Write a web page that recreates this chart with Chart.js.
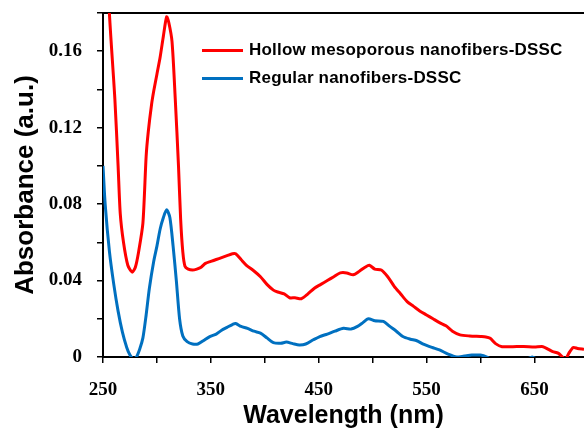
<!DOCTYPE html>
<html>
<head>
<meta charset="utf-8">
<script src="https://cdn.jsdelivr.net/npm/chart.js@4"></script>
<style>
    html, body { margin: 0; padding: 0; background: #fff; }
    #wrap { position: relative; width: 584px; height: 431px; }
    #legend { position: absolute; left: 202px; top: 36px; font: bold 17px "Liberation Sans", Arial, sans-serif; letter-spacing: 0.2px; color: #000; }
    .item { display: flex; align-items: center; height: 28px; white-space: nowrap; }
    .swatch { width: 41px; height: 3px; margin-right: 6px; }
</style>
</head>
<body>
<div id="wrap">
    <canvas id="chart" width="584" height="431"></canvas>
    <div id="legend"></div>
</div>
<script>
// --- データ ---
const seriesNames = ['Hollow mesoporous nanofibers-DSSC', 'Regular nanofibers-DSSC'];
const seriesColors = ['#ff0000', '#0070c0'];

const hollowWl = [250, 255, 261, 264, 266, 269, 273, 277, 280, 283, 287, 290, 292, 295, 297, 300, 303, 306, 309, 311, 314, 317, 320, 322, 324, 326, 329, 333, 337, 341, 345, 350, 355, 360, 365, 370, 373, 378, 383, 390, 396, 402, 408, 412, 418, 423, 428, 434, 440, 446, 452, 458, 464, 470, 476, 482, 488, 493, 497, 502, 508, 514, 520, 526, 532, 538, 544, 550, 556, 562, 568, 574, 581, 590, 600, 605, 609, 614, 620, 630, 640, 650, 658, 663, 667, 672, 676, 679, 682, 686, 690, 696];
const hollowAbs = [0.30, 0.19, 0.135, 0.10, 0.075, 0.06, 0.048, 0.0444, 0.047, 0.055, 0.07, 0.105, 0.118, 0.132, 0.139, 0.148, 0.157, 0.168, 0.178, 0.175, 0.165, 0.135, 0.10, 0.072, 0.055, 0.0475, 0.046, 0.0455, 0.046, 0.047, 0.049, 0.050, 0.051, 0.052, 0.053, 0.054, 0.054, 0.051, 0.048, 0.045, 0.042, 0.038, 0.035, 0.034, 0.033, 0.031, 0.031, 0.0305, 0.033, 0.036, 0.038, 0.040, 0.042, 0.044, 0.044, 0.043, 0.045, 0.047, 0.048, 0.046, 0.0455, 0.042, 0.037, 0.033, 0.029, 0.0265, 0.024, 0.022, 0.020, 0.018, 0.0163, 0.0135, 0.0116, 0.011, 0.0107, 0.0105, 0.0098, 0.007, 0.0054, 0.0054, 0.0055, 0.0052, 0.0054, 0.004, 0.0028, 0.002, 0.0, -0.001, 0.002, 0.005, 0.0045, 0.004];

const regularWl = [250, 252, 256, 260, 264, 268, 272, 275, 278, 281, 284, 287, 290, 293, 297, 300, 303, 306, 309, 312, 315, 318, 321, 324, 328, 333, 338, 343, 349, 355, 360, 365, 370, 373, 378, 384, 390, 396, 402, 408, 415, 420, 426, 432, 438, 445, 451, 458, 465, 473, 480, 486, 491, 496, 502, 510, 516, 522, 528, 535, 541, 547, 555, 562, 570, 578, 585, 592, 600, 606, 612, 625, 640, 648, 655, 670, 696];
const regularAbs = [0.10, 0.08, 0.055, 0.038, 0.024, 0.013, 0.005, 0.001, -0.001, 0.0, 0.004, 0.010, 0.022, 0.036, 0.050, 0.058, 0.067, 0.073, 0.077, 0.073, 0.058, 0.040, 0.020, 0.011, 0.008, 0.0068, 0.0068, 0.0085, 0.0107, 0.012, 0.014, 0.0155, 0.017, 0.0175, 0.016, 0.015, 0.0135, 0.0125, 0.010, 0.0075, 0.0072, 0.0078, 0.007, 0.0063, 0.0068, 0.009, 0.0107, 0.012, 0.0135, 0.015, 0.0146, 0.016, 0.018, 0.020, 0.019, 0.0186, 0.016, 0.0135, 0.0107, 0.0093, 0.0085, 0.0067, 0.005, 0.0037, 0.0015, 0.0, 0.0005, 0.001, 0.001, 0.0, -0.002, -0.003, -0.002, 0.0, -0.002, -0.002, -0.002];

const xTicks = [250, 300, 350, 400, 450, 500, 550, 600, 650];
const xTickLabels = ['250', '', '350', '', '450', '', '550', '', '650'];
const yTicks = [0, 0.02, 0.04, 0.06, 0.08, 0.10, 0.12, 0.14, 0.16, 0.18];
const yTickLabels = ['0', '', '0.04', '', '0.08', '', '0.12', '', '0.16', ''];

const toPoints = (xs, ys) => xs.map((x, i) => ({ x: x, y: ys[i] }));

// 凡例 (HTML)
document.getElementById('legend').innerHTML = seriesNames.map((name, i) =>
    `<div class="item"><span class="swatch" style="background:${seriesColors[i]}"></span>${name}</div>`
).join('');

const tickFont = { family: '"Liberation Serif", "Times New Roman", serif', size: 19, weight: 'bold' };
const sansFamily = '"Liberation Sans", Arial, sans-serif';

new Chart(document.getElementById('chart').getContext('2d'), {
    type: 'line',
    data: {
        datasets: [
            { label: seriesNames[0], data: toPoints(hollowWl, hollowAbs), borderColor: seriesColors[0], borderWidth: 3, pointRadius: 0, tension: 0.25, fill: false },
            { label: seriesNames[1], data: toPoints(regularWl, regularAbs), borderColor: seriesColors[1], borderWidth: 3, pointRadius: 0, tension: 0.25, fill: false }
        ]
    },
    options: {
        responsive: false,
        animation: false,
        devicePixelRatio: 1,
        layout: { padding: { top: 13, right: 0, left: 0, bottom: 0 } },
        plugins: { legend: { display: false }, tooltip: { enabled: false } },
        scales: {
            x: {
                type: 'linear', min: 250, max: 696,
                afterBuildTicks: s => { s.ticks = xTicks.map(v => ({ value: v })); },
                afterFit: s => { s.height = 74; s.paddingLeft = 0; s.paddingRight = 0; },
                ticks: { autoSkip: false, maxRotation: 0, color: '#000', font: tickFont, padding: 16, callback: (v, i) => xTickLabels[i] },
                grid: { drawOnChartArea: false, color: '#000', tickLength: 6, lineWidth: 1.5 },
                border: { display: true, color: '#000', width: 2 },
                title: { display: true, text: 'Wavelength (nm)', color: '#000', font: { family: sansFamily, size: 25, weight: 'bold' }, padding: { top: 0, bottom: 0 } }
            },
            xTop: {
                type: 'linear', position: 'top', min: 250, max: 696,
                afterFit: s => { s.height = 0; s.paddingLeft = 0; s.paddingRight = 0; },
                ticks: { display: false },
                grid: { display: false },
                border: { display: true, color: '#000', width: 2 }
            },
            y: {
                min: 0, max: 0.18,
                afterBuildTicks: s => { s.ticks = yTicks.map(v => ({ value: v })); },
                afterFit: s => { s.width = 103; s.paddingTop = 0; s.paddingBottom = 0; },
                ticks: { autoSkip: false, color: '#000', font: tickFont, padding: 15, callback: (v, i) => yTickLabels[i] },
                grid: { drawOnChartArea: false, color: '#000', tickLength: 6, lineWidth: 1.5 },
                border: { display: true, color: '#000', width: 2 },
                title: { display: true, text: 'Absorbance (a.u.)', color: '#000', font: { family: sansFamily, size: 26, weight: 'bold' }, padding: { top: 10, bottom: 0 } }
            }
        }
    }
});
</script>
</body>
</html>
